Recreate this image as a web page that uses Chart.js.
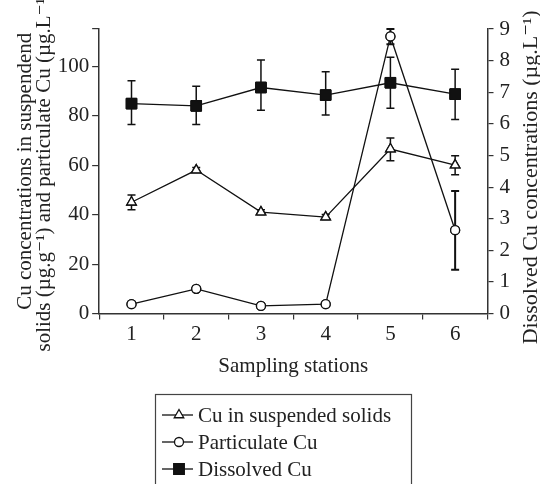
<!DOCTYPE html>
<html>
<head>
<meta charset="utf-8">
<script src="https://cdn.jsdelivr.net/npm/chart.js@4"></script>
<style>
  html, body { margin: 0; padding: 0; background: #fff; }
  #wrap { width: 540px; height: 484px; position: relative; }
</style>
</head>
<body>
<div id="wrap"><canvas id="cuChart"></canvas></div>
<script>
// data
const stations = ['1', '2', '3', '4', '5', '6'];

const suspendedCu = [45, 58, 41, 39, 66.5, 60];
const suspendedLow = [42, 57, 40, 38, 61.8, 56.1];
const suspendedHigh = [47.9, 59, 42, 40, 71, 63.8];

const particulateCu = [3.8, 10, 3.1, 3.8, 112, 33.7];
const particulateLow = [3.8, 10, 3.1, 3.8, 108.8, 17.7];
const particulateHigh = [3.8, 10, 3.1, 3.8, 115, 49.5];

const dissolvedCu = [6.64, 6.57, 7.15, 6.91, 7.30, 6.94];
const dissolvedLow = [5.98, 5.98, 6.43, 6.28, 6.49, 6.14];
const dissolvedHigh = [7.36, 7.19, 8.02, 7.65, 8.11, 7.73];

const legendLabels = ['Cu in suspended solids', 'Particulate Cu', 'Dissolved Cu'];
const rightTitle = 'Dissolved Cu concentrations (\u00b5g.L\u207b\u00b9)';

const axisColor = '#333';
const serif = "'Liberation Serif', 'DejaVu Serif', serif";
Chart.defaults.font.family = serif;
Chart.defaults.font.size = 21;
Chart.defaults.color = '#222';

// error bars drawn from the scales, markers redrawn on top
const errorBars = {
    id: 'errorBars',
    afterDatasetsDraw(chart) {
        const ctx = chart.ctx;
        chart.data.datasets.forEach((ds, i) => {
            const meta = chart.getDatasetMeta(i);
            const yScale = chart.scales[ds.yAxisID];
            ctx.save();
            ctx.strokeStyle = '#111';
            ctx.lineWidth = ds.errWidth || 1.5;
            meta.data.forEach((pt, j) => {
                const lo = ds.errLow[j], hi = ds.errHigh[j];
                if (hi - lo < 0.001) return;
                const x = pt.x;
                const yLo = yScale.getPixelForValue(lo);
                const yHi = yScale.getPixelForValue(hi);
                ctx.beginPath();
                ctx.moveTo(x, yLo); ctx.lineTo(x, yHi);
                ctx.moveTo(x - 4, yLo); ctx.lineTo(x + 4, yLo);
                ctx.moveTo(x - 4, yHi); ctx.lineTo(x + 4, yHi);
                ctx.stroke();
            });
            ctx.restore();
            meta.data.forEach(pt => pt.draw(ctx, chart.chartArea));
        });
    }
};

// right axis title reads bottom-to-top like the left one
const rightAxisTitle = {
    id: 'rightAxisTitle',
    afterDraw(chart) {
        const ctx = chart.ctx;
        const area = chart.chartArea;
        ctx.save();
        ctx.translate(chart.width - 9, (area.top + area.bottom) / 2 + 6);
        ctx.rotate(-Math.PI / 2);
        ctx.font = '22px ' + serif;
        ctx.fillStyle = '#222';
        ctx.textAlign = 'center';
        ctx.textBaseline = 'middle';
        ctx.fillText(rightTitle, 0, 0);
        ctx.restore();
    }
};

// boxed legend below the axis title
const boxLegend = {
    id: 'boxLegend',
    afterDraw(chart) {
        const ctx = chart.ctx;
        ctx.save();
        ctx.strokeStyle = '#444';
        ctx.lineWidth = 1.2;
        ctx.strokeRect(155.5, 394.5, 256, 100);
        chart.data.datasets.forEach((ds, i) => {
            const y = 415 + i * 27;
            ctx.strokeStyle = '#111';
            ctx.lineWidth = 1.3;
            ctx.beginPath();
            ctx.moveTo(162, y); ctx.lineTo(193, y);
            ctx.stroke();
            ctx.fillStyle = ds.pointBackgroundColor;
            Chart.helpers.drawPoint(ctx, {
                pointStyle: ds.pointStyle,
                radius: ds.pointRadius,
                borderWidth: 1.3
            }, 179, y);
            ctx.fillStyle = '#222';
            ctx.font = '21px ' + serif;
            ctx.textBaseline = 'middle';
            ctx.fillText(legendLabels[i], 198, y + 1);
        });
        ctx.restore();
    }
};

new Chart(document.getElementById('cuChart'), {
    type: 'line',
    data: {
        labels: stations,
        datasets: [{
            label: legendLabels[0],
            data: suspendedCu,
            errLow: suspendedLow,
            errHigh: suspendedHigh,
            yAxisID: 'yLeft',
            borderColor: '#111',
            borderWidth: 1.3,
            pointStyle: 'triangle',
            pointRadius: 5.5,
            pointBackgroundColor: '#fff',
            pointBorderColor: '#111',
            pointBorderWidth: 1.3
        }, {
            label: legendLabels[1],
            data: particulateCu,
            errLow: particulateLow,
            errHigh: particulateHigh,
            errWidth: 2,
            yAxisID: 'yLeft',
            borderColor: '#111',
            borderWidth: 1.3,
            pointStyle: 'circle',
            pointRadius: 4.5,
            pointBackgroundColor: '#fff',
            pointBorderColor: '#111',
            pointBorderWidth: 1.3
        }, {
            label: legendLabels[2],
            data: dissolvedCu,
            errLow: dissolvedLow,
            errHigh: dissolvedHigh,
            yAxisID: 'yRight',
            borderColor: '#111',
            borderWidth: 1.3,
            pointStyle: 'rect',
            pointRadius: 7.5,
            pointBackgroundColor: '#111',
            pointBorderColor: '#111',
            pointBorderWidth: 1
        }]
    },
    options: {
        responsive: true,
        maintainAspectRatio: false,
        animation: false,
        layout: { padding: { left: 16, right: 24, top: 29, bottom: 101 } },
        plugins: {
            legend: { display: false },
            tooltip: { enabled: false }
        },
        scales: {
            x: {
                offset: true,
                grid: { offset: true, drawOnChartArea: false, tickLength: 6, color: axisColor, lineWidth: 1.2 },
                border: { color: axisColor, width: 1.5 },
                ticks: { padding: 2 },
                title: { display: true, text: 'Sampling stations', padding: { top: 5 } }
            },
            yLeft: {
                position: 'left',
                min: 0,
                max: 115,
                ticks: {
                    stepSize: 20,
                    padding: 3,
                    callback: v => (v % 20 === 0 ? v : '')
                },
                grid: { drawOnChartArea: false, tickLength: 7, color: axisColor, lineWidth: 1.2 },
                border: { color: axisColor, width: 1.5 },
                title: {
                    display: true,
                    text: ['Cu concentrations in suspendend', 'solids (\u00b5g.g\u207b\u00b9) and particulate Cu (\u00b5g.L\u207b\u00b9)'],
                    font: { size: 21, lineHeight: 0.92 },
                    padding: 0
                }
            },
            yRight: {
                position: 'right',
                min: 0,
                max: 9,
                ticks: { stepSize: 1, padding: 6 },
                grid: { drawOnChartArea: false, tickLength: 6, color: axisColor, lineWidth: 1.2 },
                border: { color: axisColor, width: 1.5 }
            }
        }
    },
    plugins: [errorBars, rightAxisTitle, boxLegend]
});
</script>
</body>
</html>
